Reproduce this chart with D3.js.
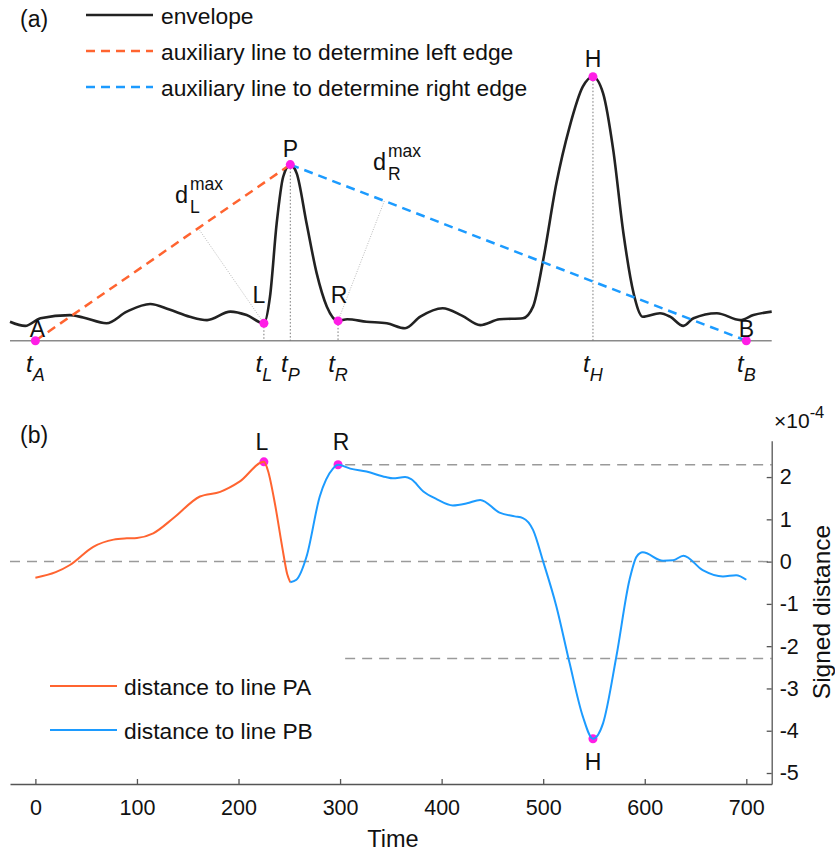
<!DOCTYPE html>
<html><head><meta charset="utf-8">
<script src="https://cdn.jsdelivr.net/npm/d3@7"></script>
<style>body{margin:0;background:#fff} text{font-family:"Liberation Sans",Arial,Helvetica,sans-serif;fill:#111}</style>
</head><body><svg id="c" width="835" height="852"></svg>
<script>
// ---- data ----
const envT = [-25,-10,5,34,47,70,90,113,132,152,169,192,208,225,231,237.6,244,251,257.3,267,277,287,298,307,326,346,364,379,401,420,438,457,480,490,500,513,526,539,549,559,569,579,589,598,615,625,638,648,671,694,707,725];
const envV = [0.072,0.056,0.085,0.097,0.088,0.066,0.11,0.139,0.118,0.091,0.078,0.11,0.097,0.066,0.167,0.445,0.621,0.667,0.634,0.445,0.255,0.129,0.075,0.081,0.072,0.066,0.047,0.091,0.123,0.095,0.059,0.081,0.085,0.129,0.306,0.596,0.81,0.962,1.0,0.937,0.722,0.407,0.18,0.091,0.104,0.091,0.056,0.085,0.104,0.078,0.097,0.11];
const paT = [0,20,34,57,77,90,100,116,136,162,182,201,225,229,236,243,248,251];
const paV = [-0.38,-0.25,-0.08,0.35,0.52,0.55,0.56,0.67,1.03,1.54,1.65,1.89,2.36,2.15,1.35,0.35,-0.3,-0.49];
const pbT = [251,257,267,280,293,298,310,326,345,352,364,370,382,395,411,425,438,457,472,480,490,500,513,526,539,549,559,572,585,592,598,618,628,638,657,677,690,700];
const pbV = [-0.49,-0.43,0.12,1.54,2.2,2.29,2.2,2.13,2.0,1.97,2.0,1.95,1.66,1.48,1.33,1.38,1.46,1.16,1.07,1.03,0.75,0,-1.06,-2.4,-3.66,-4.19,-3.82,-2.25,-0.43,0.12,0.22,0.02,0.03,0.14,-0.2,-0.35,-0.32,-0.43];
const keyNames = ["A","L","P","R","H","B"];
const keyT   = [0,225,251,298,549,700];
const keyEnv = [0,0.066,0.667,0.075,1.0,0];
const distNames = ["L","R","H"];
const distT = [225,298,549];
const distV = [2.36,2.29,-4.19];
const thresholds = [2.29,0,-2.29];
const threshStart = [305,-25,305];
const xTicks = [0,100,200,300,400,500,600,700];
const yTicks = [-5,-4,-3,-2,-1,0,1,2];
const legendA = ["envelope","auxiliary line to determine left edge","auxiliary line to determine right edge"];
const legendB = ["distance to line PA","distance to line PB"];

// ---- styles ----
const ORANGE="#ff6430", BLUE="#1c9bff", MAG="#ff1ee6", ENV="#222";
const svg = d3.select("#c");
const x = d3.scaleLinear().domain([-25,725]).range([10,771.7]);
const yA = d3.scaleLinear().domain([0,1]).range([340.7,76.7]);
const yB = d3.scaleLinear().domain([-5.26,2.86]).range([784,440.7]);

// ---------- Panel (a) ----------
svg.append("text").attr("x",20).attr("y",27).attr("font-size",23).text("(a)");
// legend
const lgA = [{c:ENV,d:null},{c:ORANGE,d:"9,6"},{c:BLUE,d:"9,6"}];
legendA.forEach((t,i)=>{
  const yy = 15 + i*36;
  svg.append("line").attr("x1",86).attr("x2",153).attr("y1",yy).attr("y2",yy)
    .attr("stroke",lgA[i].c).attr("stroke-width",2.5).attr("stroke-dasharray",lgA[i].d);
  svg.append("text").attr("x",161).attr("y",yy+8.5).attr("font-size",22.8).text(t);
});
// baseline
svg.append("line").attr("x1",x(-25)).attr("x2",x(725)).attr("y1",yA(0)).attr("y2",yA(0))
  .attr("stroke","#8a8a8a").attr("stroke-width",1.5);
const kp = keyNames.map((n,i)=>({n, t:keyT[i], v:keyEnv[i], px:x(keyT[i]), py:yA(keyEnv[i])}));
const K = Object.fromEntries(kp.map(d=>[d.n,d]));
// dotted verticals
["L","P","R","H"].forEach(n=>{
  svg.append("line").attr("x1",K[n].px).attr("x2",K[n].px).attr("y1",K[n].py).attr("y2",yA(0))
    .attr("stroke","#777").attr("stroke-width",1).attr("stroke-dasharray","1.5,2");
});
// perpendicular distance lines
function foot(p,a,b){const dx=b.px-a.px,dy=b.py-a.py;const s=((p.px-a.px)*dx+(p.py-a.py)*dy)/(dx*dx+dy*dy);return [a.px+s*dx,a.py+s*dy];}
[[K.L,K.A,K.P],[K.R,K.P,K.B]].forEach(([p,a,b])=>{
  const f=foot(p,a,b);
  svg.append("line").attr("x1",p.px).attr("y1",p.py).attr("x2",f[0]).attr("y2",f[1])
    .attr("stroke","#aaa").attr("stroke-width",0.8).attr("stroke-dasharray","1,1.5");
});
// envelope
const envData = envT.map((t,i)=>[t,envV[i]]);
svg.append("path").datum(envData).attr("fill","none").attr("stroke",ENV).attr("stroke-width",2.6)
  .attr("d",d3.line().x(d=>x(d[0])).y(d=>yA(d[1])).curve(d3.curveMonotoneX));
// aux lines
svg.append("line").attr("x1",K.A.px).attr("y1",K.A.py).attr("x2",K.P.px).attr("y2",K.P.py)
  .attr("stroke",ORANGE).attr("stroke-width",2.5).attr("stroke-dasharray","9,6");
svg.append("line").attr("x1",K.P.px).attr("y1",K.P.py).attr("x2",K.B.px).attr("y2",K.B.py)
  .attr("stroke",BLUE).attr("stroke-width",2.5).attr("stroke-dasharray","9,6");
// markers
svg.selectAll(".mkA").data(kp).enter().append("circle").attr("cx",d=>d.px).attr("cy",d=>d.py).attr("r",4.5).attr("fill",MAG);
// point labels
const lblOff = {A:[2,-4],L:[-5,-20],P:[0,-8],R:[1,-18],H:[0,-10],B:[0,-4]};
kp.forEach(d=>{
  svg.append("text").attr("x",d.px+lblOff[d.n][0]).attr("y",d.py+lblOff[d.n][1])
    .attr("text-anchor","middle").attr("font-size",23).text(d.n);
});
// d max labels
function dmax(xx,yy,sub){
  svg.append("text").attr("x",xx).attr("y",yy).attr("font-size",23.5).text("d");
  svg.append("text").attr("x",xx+15).attr("y",yy-13).attr("font-size",17.5).text("max");
  svg.append("text").attr("x",xx+15).attr("y",yy+10).attr("font-size",17.5).text(sub);
}
dmax(175,203,"L");
dmax(373,170,"R");
// t labels
kp.forEach(d=>{
  const t=svg.append("text").attr("x",d.px).attr("y",372).attr("text-anchor","middle").attr("font-style","italic").attr("font-size",24);
  t.append("tspan").text("t");
  t.append("tspan").attr("dy",9).attr("font-size",18).text(d.n);
});

// ---------- Panel (b) ----------
svg.append("text").attr("x",20).attr("y",443).attr("font-size",23).text("(b)");
// thresholds
thresholds.forEach((v,i)=>{
  svg.append("line").attr("x1",x(threshStart[i])).attr("x2",x(725)).attr("y1",yB(v)).attr("y2",yB(v))
    .attr("stroke","#9a9a9a").attr("stroke-width",1.5).attr("stroke-dasharray","10,7");
});
// axes
const xa = svg.append("g").attr("transform",`translate(0,${yB(-5.26)})`)
  .call(d3.axisBottom(x).tickValues(xTicks).tickSize(-5).tickSizeOuter(0).tickPadding(16));
const ya = svg.append("g").attr("transform",`translate(${x(725)},0)`)
  .call(d3.axisRight(yB).tickValues(yTicks).tickSize(-5).tickSizeOuter(0).tickPadding(8).tickFormat(d=>String(d)));
[xa,ya].forEach(g=>{
  g.selectAll("path,line").attr("stroke","#555").attr("stroke-width",1.3);
  g.selectAll("text").attr("font-size",21.5).attr("fill","#222").attr("font-family","Liberation Sans,Arial,sans-serif");
});
svg.append("text").attr("x",393).attr("y",847).attr("text-anchor","middle").attr("font-size",23.5).text("Time");
svg.append("text").attr("transform","translate(830,612) rotate(-90)").attr("text-anchor","middle").attr("font-size",24.5).text("Signed distance");
const ex = svg.append("text").attr("x",774).attr("y",428).attr("font-size",21);
ex.append("tspan").text("×10");
ex.append("tspan").attr("dy",-10).attr("font-size",16.5).text("-4");
// curves
const lineB = d3.line().x(d=>x(d[0])).y(d=>yB(d[1])).curve(d3.curveMonotoneX);
const dp = distNames.map((n,i)=>({n,px:x(distT[i]),py:yB(distV[i])}));
svg.selectAll(".mkB").data(dp).enter().append("circle").attr("cx",d=>d.px).attr("cy",d=>d.py).attr("r",4.5).attr("fill",MAG);
svg.append("path").datum(paT.map((t,i)=>[t,paV[i]])).attr("fill","none").attr("stroke",ORANGE).attr("stroke-width",2).attr("d",lineB);
svg.append("path").datum(pbT.map((t,i)=>[t,pbV[i]])).attr("fill","none").attr("stroke",BLUE).attr("stroke-width",2).attr("d",lineB);
const lblB = {L:[-2,-12],R:[3,-15],H:[0,31]};
dp.forEach(d=>{
  svg.append("text").attr("x",d.px+lblB[d.n][0]).attr("y",d.py+lblB[d.n][1]).attr("text-anchor","middle").attr("font-size",23).text(d.n);
});
// legend b
[ORANGE,BLUE].forEach((c,i)=>{
  const yy = 686 + i*44;
  svg.append("line").attr("x1",50).attr("x2",117).attr("y1",yy).attr("y2",yy).attr("stroke",c).attr("stroke-width",2);
  svg.append("text").attr("x",124).attr("y",yy+9).attr("font-size",22.8).text(legendB[i]);
});
</script>
</body></html>
